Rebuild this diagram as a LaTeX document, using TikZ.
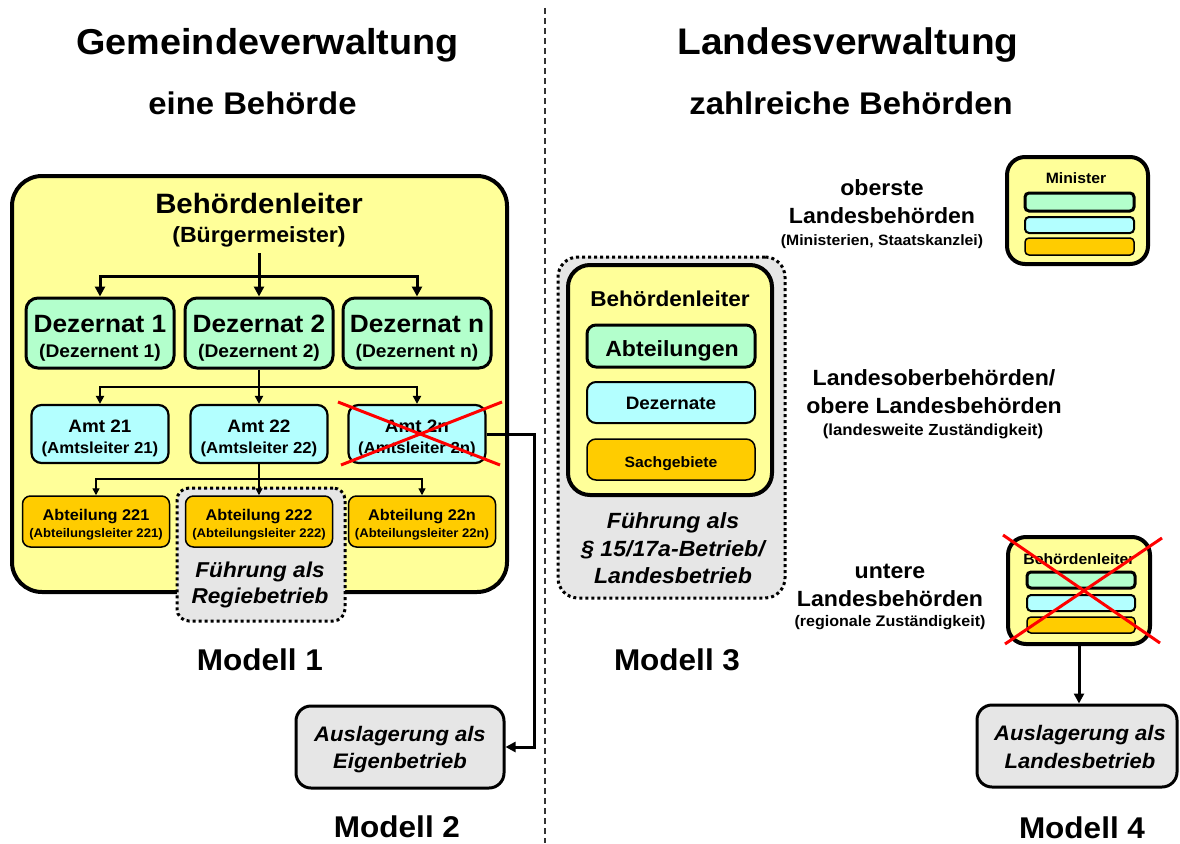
\documentclass[tikz,border=0pt]{standalone}
\usepackage{fontspec}
\setmainfont{Liberation Sans}[FakeStretch=1.05]
\usetikzlibrary{arrows.meta}
\definecolor{boxyellow}{HTML}{FFFF99}
\definecolor{boxgreen}{HTML}{B3FFCC}
\definecolor{boxcyan}{HTML}{B3FFFF}
\definecolor{boxorange}{HTML}{FFCC00}
\definecolor{boxgray}{HTML}{E6E6E6}
\definecolor{crossred}{HTML}{FF0000}
\begin{document}
\begin{tikzpicture}[x=1pt,y=-1pt,
  txt/.style={inner sep=0pt, anchor=base},
  fsz/.style={font=\bfseries\fontsize{#1}{#1}\selectfont},
  fszi/.style={font=\bfseries\itshape\fontsize{#1}{#1}\selectfont},
  panel/.style={draw=black, line width=4pt, fill=boxyellow, rounded corners=#1, inner sep=0pt},
  panel/.default=30pt,
  dezbox/.style={draw=black, line width=3pt, fill=boxgreen, rounded corners=12pt, inner sep=0pt},
  amtbox/.style={draw=black, line width=2.2pt, fill=boxcyan, rounded corners=10pt, inner sep=0pt},
  abtbox/.style={draw=black, line width=1.5pt, fill=boxorange, rounded corners=8pt, inner sep=0pt},
  greenbar/.style={draw=black, line width=3pt, fill=boxgreen, rounded corners=4pt, inner sep=0pt},
  cyanbar/.style={draw=black, line width=2pt, fill=boxcyan, rounded corners=4pt, inner sep=0pt},
  orangebar/.style={draw=black, line width=1.5pt, fill=boxorange, rounded corners=4pt, inner sep=0pt},
  dotbox/.style={draw=black, line width=3pt, dash pattern=on 3pt off 3pt, fill=boxgray, rounded corners=#1, inner sep=0pt},
  dotbox/.default=12pt,
  outbox/.style={draw=black, line width=3pt, fill=boxgray, rounded corners=15pt, inner sep=0pt},
  arrA/.style={line width=3pt, -{Triangle[width=10pt,length=10pt]}},
  arrB/.style={line width=2pt, -{Triangle[width=8pt,length=8pt]}},
  arrC/.style={line width=1.4pt, -{Triangle[width=7pt,length=7pt]}},
  crossline/.style={draw=crossred, line width=3pt},
  divider/.style={line width=1.2pt, dash pattern=on 6pt off 4pt, draw=black!80}
]
\useasboundingbox (0,0) rectangle (1180,843);

% ---------- headings ----------
\node[txt, fsz=36] (titleL) at (267.5,55) {Gemeindeverwaltung};
\node[txt, fsz=31.3] (subL) at (252.5,114) {eine Behörde};
\node[txt, fsz=37] (titleR) at (848,55) {Landesverwaltung};
\node[txt, fsz=31.3] (subR) at (851,114) {zahlreiche Behörden};

% ---------- divider ----------
\coordinate (divtop) at (545,8);
\coordinate (divbot) at (545,843);
\draw[divider] (divtop) -- (divbot);

% ---------- Modell 1: municipal administration ----------
\node[panel, minimum width=495pt, minimum height=416pt] (m1) at (259.5,384) {};
\node[txt, fsz=28] (m1head) at (259,213) {Behördenleiter};
\node[txt, fsz=22] (m1sub) at (259,242) {(Bürgermeister)};

\node[dotbox, minimum width=168pt, minimum height=133pt] (regie) at (261,554.5) {};

\node[dezbox, minimum width=148pt, minimum height=70pt] (d1) at (100,333) {};
\node[dezbox, minimum width=148pt, minimum height=70pt] (d2) at (259,333) {};
\node[dezbox, minimum width=148pt, minimum height=70pt] (dn) at (417,333) {};

\node[amtbox, minimum width=137pt, minimum height=58pt] (a21) at (100,434) {};
\node[amtbox, minimum width=137pt, minimum height=58pt] (a22) at (259,434) {};
\node[amtbox, minimum width=137pt, minimum height=58pt] (a2n) at (417,434) {};

\node[abtbox, minimum width=147pt, minimum height=51pt] (ab221) at (96,521.5) {};
\node[abtbox, minimum width=147pt, minimum height=51pt] (ab222) at (259,521.5) {};
\node[abtbox, minimum width=147pt, minimum height=51pt] (ab22n) at (422,521.5) {};

\node[txt, fsz=25] (d1t) at (100,332) {Dezernat 1};
\node[txt, fsz=18.3] (d1s) at (100,357) {(Dezernent 1)};
\node[txt, fsz=25] (d2t) at (259,332) {Dezernat 2};
\node[txt, fsz=18.3] (d2s) at (259,357) {(Dezernent 2)};
\node[txt, fsz=25] (dnt) at (417,332) {Dezernat n};
\node[txt, fsz=18.3] (dns) at (417,357) {(Dezernent n)};

\node[txt, fsz=18] (a21t) at (100,432) {Amt 21};
\node[txt, fsz=16] (a21s) at (100,453) {(Amtsleiter 21)};
\node[txt, fsz=18] (a22t) at (259,432) {Amt 22};
\node[txt, fsz=16] (a22s) at (259,453) {(Amtsleiter 22)};
\node[txt, fsz=18] (a2nt) at (417,432) {Amt 2n};
\node[txt, fsz=16] (a2ns) at (417,453) {(Amtsleiter 2n)};

\node[txt, fsz=15.5] (ab221t) at (96,520) {Abteilung 221};
\node[txt, fsz=12.5] (ab221s) at (96,537) {(Abteilungsleiter 221)};
\node[txt, fsz=15.5] (ab222t) at (259,520) {Abteilung 222};
\node[txt, fsz=12.5] (ab222s) at (259,537) {(Abteilungsleiter 222)};
\node[txt, fsz=15.5] (ab22nt) at (422,520) {Abteilung 22n};
\node[txt, fsz=12.5] (ab22ns) at (422,537) {(Abteilungsleiter 22n)};

\node[txt, fszi=21.5] (regie1) at (260,577) {Führung als};
\node[txt, fszi=21.5] (regie2) at (260,603) {Regiebetrieb};

% hierarchy connectors
\coordinate (t1) at (259,253);
\coordinate (bar1) at (259,276);
\draw[arrA] (t1) -- (d2.north);
\draw[arrA] (bar1) -| (d1.north);
\draw[arrA] (bar1) -| (dn.north);

\coordinate (bar2) at (259,387);
\draw[arrB] (d2.south) -- (a22.north);
\draw[arrB] (bar2) -| (a21.north);
\draw[arrB] (bar2) -| (a2n.north);

\coordinate (bar3) at (259,479);
\draw[arrC] (a22.south) -- (ab222.north);
\draw[arrC] (bar3) -| (ab221.north);
\draw[arrC] (bar3) -| (ab22n.north);

% struck-out office
\draw[crossline] (338,402) -- (500,465);
\draw[crossline] (341,465) -- (502,402);

\node[txt, fsz=30] (mod1) at (260,670) {Modell 1};

% ---------- Modell 2: outsourcing ----------
\node[outbox, minimum width=208pt, minimum height=82pt] (aus1) at (400,747) {};
\node[txt, fszi=21] (aus1a) at (400,741) {Auslagerung als};
\node[txt, fszi=21] (aus1b) at (400,768) {Eigenbetrieb};
\draw[arrA] (a2n.east) -- ++(48,0) |- (aus1.east);
\node[txt, fsz=30] (mod2) at (397,837) {Modell 2};

% ---------- Modell 3: state authority as enterprise ----------
\node[dotbox=20pt, minimum width=227pt, minimum height=341pt] (m3dot) at (671.5,427.5) {};
\node[panel=22pt, minimum width=204pt, minimum height=230pt] (m3) at (670,380) {};
\node[txt, fsz=21.5] (m3head) at (670,306) {Behördenleiter};
\node[dezbox, rounded corners=9pt, minimum width=168pt, minimum height=42pt] (m3abt) at (671,346) {};
\node[amtbox, line width=2pt, rounded corners=9pt, minimum width=168pt, minimum height=41pt] (m3dez) at (671,402.5) {};
\node[abtbox, rounded corners=9pt, minimum width=168pt, minimum height=41pt] (m3sach) at (671,459.5) {};
\node[txt, fsz=22] (m3abtt) at (672,356) {Abteilungen};
\node[txt, fsz=18] (m3dezt) at (671,409.5) {Dezernate};
\node[txt, fsz=15] (m3sacht) at (671,467) {Sachgebiete};
\node[txt, fszi=22] (m3f1) at (673,528) {Führung als};
\node[txt, fszi=22] (m3f2) at (673,556) {§ 15/17a-Betrieb/};
\node[txt, fszi=22] (m3f3) at (673,583) {Landesbetrieb};
\node[txt, fsz=30] (mod3) at (677,670) {Modell 3};

% ---------- levels of state authorities ----------
\node[txt, fsz=22] (lv1a) at (882,195) {oberste};
\node[txt, fsz=22] (lv1b) at (882,223) {Landesbehörden};
\node[txt, fsz=15] (lv1c) at (882,245) {(Ministerien, Staatskanzlei)};

\node[txt, fsz=22] (lv2a) at (934,385) {Landesoberbehörden/};
\node[txt, fsz=22] (lv2b) at (934,413) {obere Landesbehörden};
\node[txt, fsz=16] (lv2c) at (933,435) {(landesweite Zuständigkeit)};

\node[txt, fsz=22] (lv3a) at (890,578) {untere};
\node[txt, fsz=22] (lv3b) at (890,606) {Landesbehörden};
\node[txt, fsz=15.3] (lv3c) at (890,626) {(regionale Zuständigkeit)};

% ministry symbol
\node[panel=18pt, minimum width=141pt, minimum height=107pt] (mini) at (1077.5,210.5) {};
\node[txt, fsz=15] (minit) at (1076,183) {Minister};
\node[greenbar, minimum width=109pt, minimum height=18pt] (minig) at (1079.5,202) {};
\node[cyanbar, minimum width=109pt, minimum height=16pt] (minic) at (1079.5,225) {};
\node[orangebar, minimum width=109pt, minimum height=17pt] (minio) at (1079.5,246.5) {};

% ---------- Modell 4: lower authority outsourced ----------
\node[panel=18pt, minimum width=142pt, minimum height=107pt] (m4) at (1079,590.5) {};
\node[txt, fsz=15] (m4t) at (1079,564) {Behördenleiter};
\node[greenbar, minimum width=108pt, minimum height=16pt] (m4g) at (1081,580) {};
\node[cyanbar, minimum width=108pt, minimum height=16pt] (m4c) at (1081,603) {};
\node[orangebar, minimum width=108pt, minimum height=16pt] (m4o) at (1081,625) {};
\draw[crossline] (1003,535) -- (1160,643);
\draw[crossline] (1005,644) -- (1162,538);

\node[outbox, minimum width=200pt, minimum height=82pt] (aus2) at (1077,746) {};
\node[txt, fszi=21] (aus2a) at (1080,740) {Auslagerung als};
\node[txt, fszi=21] (aus2b) at (1080,768) {Landesbetrieb};
\draw[arrA] (m4.south) -- (m4.south |- aus2.north);
\node[txt, fsz=30] (mod4) at (1082,838) {Modell 4};

\end{tikzpicture}
\end{document}
